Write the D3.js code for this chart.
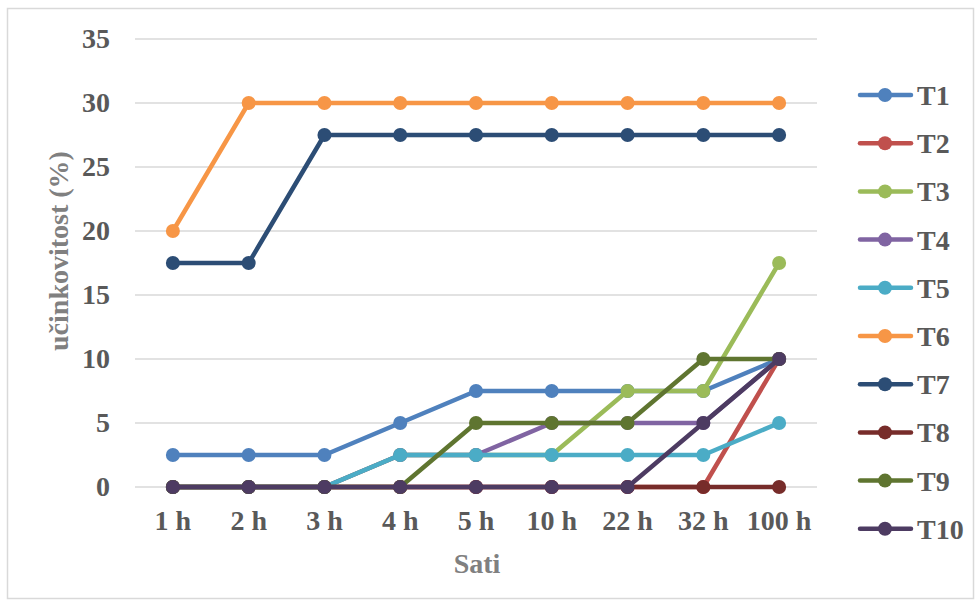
<!DOCTYPE html>
<html>
<head>
<meta charset="utf-8">
<script src="https://cdn.jsdelivr.net/npm/d3@7"></script>
<style>
  body { margin: 0; background: #fff; }
  text { font-family: "Liberation Serif", "Times New Roman", serif; font-weight: bold; }
</style>
</head>
<body>
<div id="chart"></div>
<script>
// data
var hours = ["1 h", "2 h", "3 h", "4 h", "5 h", "10 h", "22 h", "32 h", "100 h"];
var yTicks = [0, 5, 10, 15, 20, 25, 30, 35];
var names = ["T1", "T2", "T3", "T4", "T5", "T6", "T7", "T8", "T9", "T10"];
var T1  = [2.5, 2.5, 2.5, 5, 7.5, 7.5, 7.5, 7.5, 10];
var T2  = [0, 0, 0, 0, 0, 0, 0, 0, 10];
var T3  = [0, 0, 0, 2.5, 2.5, 2.5, 7.5, 7.5, 17.5];
var T4  = [0, 0, 0, 2.5, 2.5, 5, 5, 5, 10];
var T5  = [0, 0, 0, 2.5, 2.5, 2.5, 2.5, 2.5, 5];
var T6  = [20, 30, 30, 30, 30, 30, 30, 30, 30];
var T7  = [17.5, 17.5, 27.5, 27.5, 27.5, 27.5, 27.5, 27.5, 27.5];
var T8  = [0, 0, 0, 0, 0, 0, 0, 0, 0];
var T9  = [0, 0, 0, 0, 5, 5, 5, 10, 10];
var T10 = [0, 0, 0, 0, 0, 0, 0, 5, 10];
var values = [T1, T2, T3, T4, T5, T6, T7, T8, T9, T10];

var colors = ["#4F81BD", "#C0504D", "#9BBB59", "#8064A2", "#4BACC6",
              "#F79646", "#2C4D75", "#772C2A", "#5F7530", "#4D3B62"];

var W = 980, H = 605;

var svg = d3.select("#chart")
  .append("svg")
    .attr("width", W)
    .attr("height", H);

// chart border
svg.append("rect")
  .attr("x", 7.5).attr("y", 8.5)
  .attr("width", 966).attr("height", 590)
  .attr("fill", "#fff")
  .attr("stroke", "#d9d9d9")
  .attr("stroke-width", 1.5);

var x = d3.scaleBand()
  .domain(hours)
  .range([135, 817]);

var y = d3.scaleLinear()
  .domain([0, 35])
  .range([487, 39]);

var cx = function(i) { return x(hours[i]) + x.bandwidth() / 2; };

// gridlines
svg.append("g")
  .selectAll("line")
  .data(yTicks)
  .enter().append("line")
    .attr("x1", 135).attr("x2", 817)
    .attr("y1", function(d) { return y(d); })
    .attr("y2", function(d) { return y(d); })
    .attr("stroke", "#d9d9d9")
    .attr("stroke-width", 1.5);

// Y axis
var yAxis = svg.append("g")
  .attr("transform", "translate(135,0)")
  .call(d3.axisLeft(y).tickValues(yTicks).tickSize(0).tickPadding(25));
yAxis.select(".domain").remove();
yAxis.selectAll("text")
  .attr("fill", "#595959")
  .style("font-size", "28px")
  .style("font-family", "Liberation Serif")
  .style("font-weight", "bold");

// X axis
var xAxis = svg.append("g")
  .attr("transform", "translate(0,487)")
  .call(d3.axisBottom(x).tickSize(0).tickPadding(23));
xAxis.select(".domain").remove();
xAxis.selectAll("text")
  .attr("fill", "#595959")
  .style("font-size", "28px")
  .style("font-family", "Liberation Serif")
  .style("font-weight", "bold");

// axis titles
svg.append("text")
  .attr("transform", "translate(68,251) rotate(-90)")
  .attr("text-anchor", "middle")
  .attr("fill", "#808080")
  .style("font-size", "28px")
  .text("učinkovitost (%)");

svg.append("text")
  .attr("x", 477).attr("y", 573)
  .attr("text-anchor", "middle")
  .attr("fill", "#808080")
  .style("font-size", "28px")
  .text("Sati");

// the lines
var line = d3.line()
  .x(function(d, i) { return cx(i); })
  .y(function(d) { return y(d); });

var series = svg.append("g")
  .selectAll("g")
  .data(values)
  .enter().append("g");

series.append("path")
  .attr("d", function(d) { return line(d); })
  .attr("fill", "none")
  .attr("stroke", function(d, i) { return colors[i]; })
  .attr("stroke-width", 4.5)
  .attr("stroke-linejoin", "round");

series.each(function(d, k) {
  d3.select(this).selectAll("circle")
    .data(d)
    .enter().append("circle")
      .attr("cx", function(v, i) { return cx(i); })
      .attr("cy", function(v) { return y(v); })
      .attr("r", 7)
      .attr("fill", colors[k]);
});

// legend
var legend = svg.append("g")
  .selectAll("g")
  .data(names)
  .enter().append("g")
    .attr("transform", function(d, i) { return "translate(0," + (95 + i * 48.2) + ")"; });

legend.append("line")
  .attr("x1", 860).attr("x2", 911)
  .attr("stroke", function(d, i) { return colors[i]; })
  .attr("stroke-width", 4.5)
  .attr("stroke-linecap", "round");

legend.append("circle")
  .attr("cx", 885).attr("r", 7)
  .attr("fill", function(d, i) { return colors[i]; });

legend.append("text")
  .attr("x", 917).attr("y", 10)
  .attr("fill", "#595959")
  .style("font-size", "28px")
  .text(function(d) { return d; });
</script>
</body>
</html>
